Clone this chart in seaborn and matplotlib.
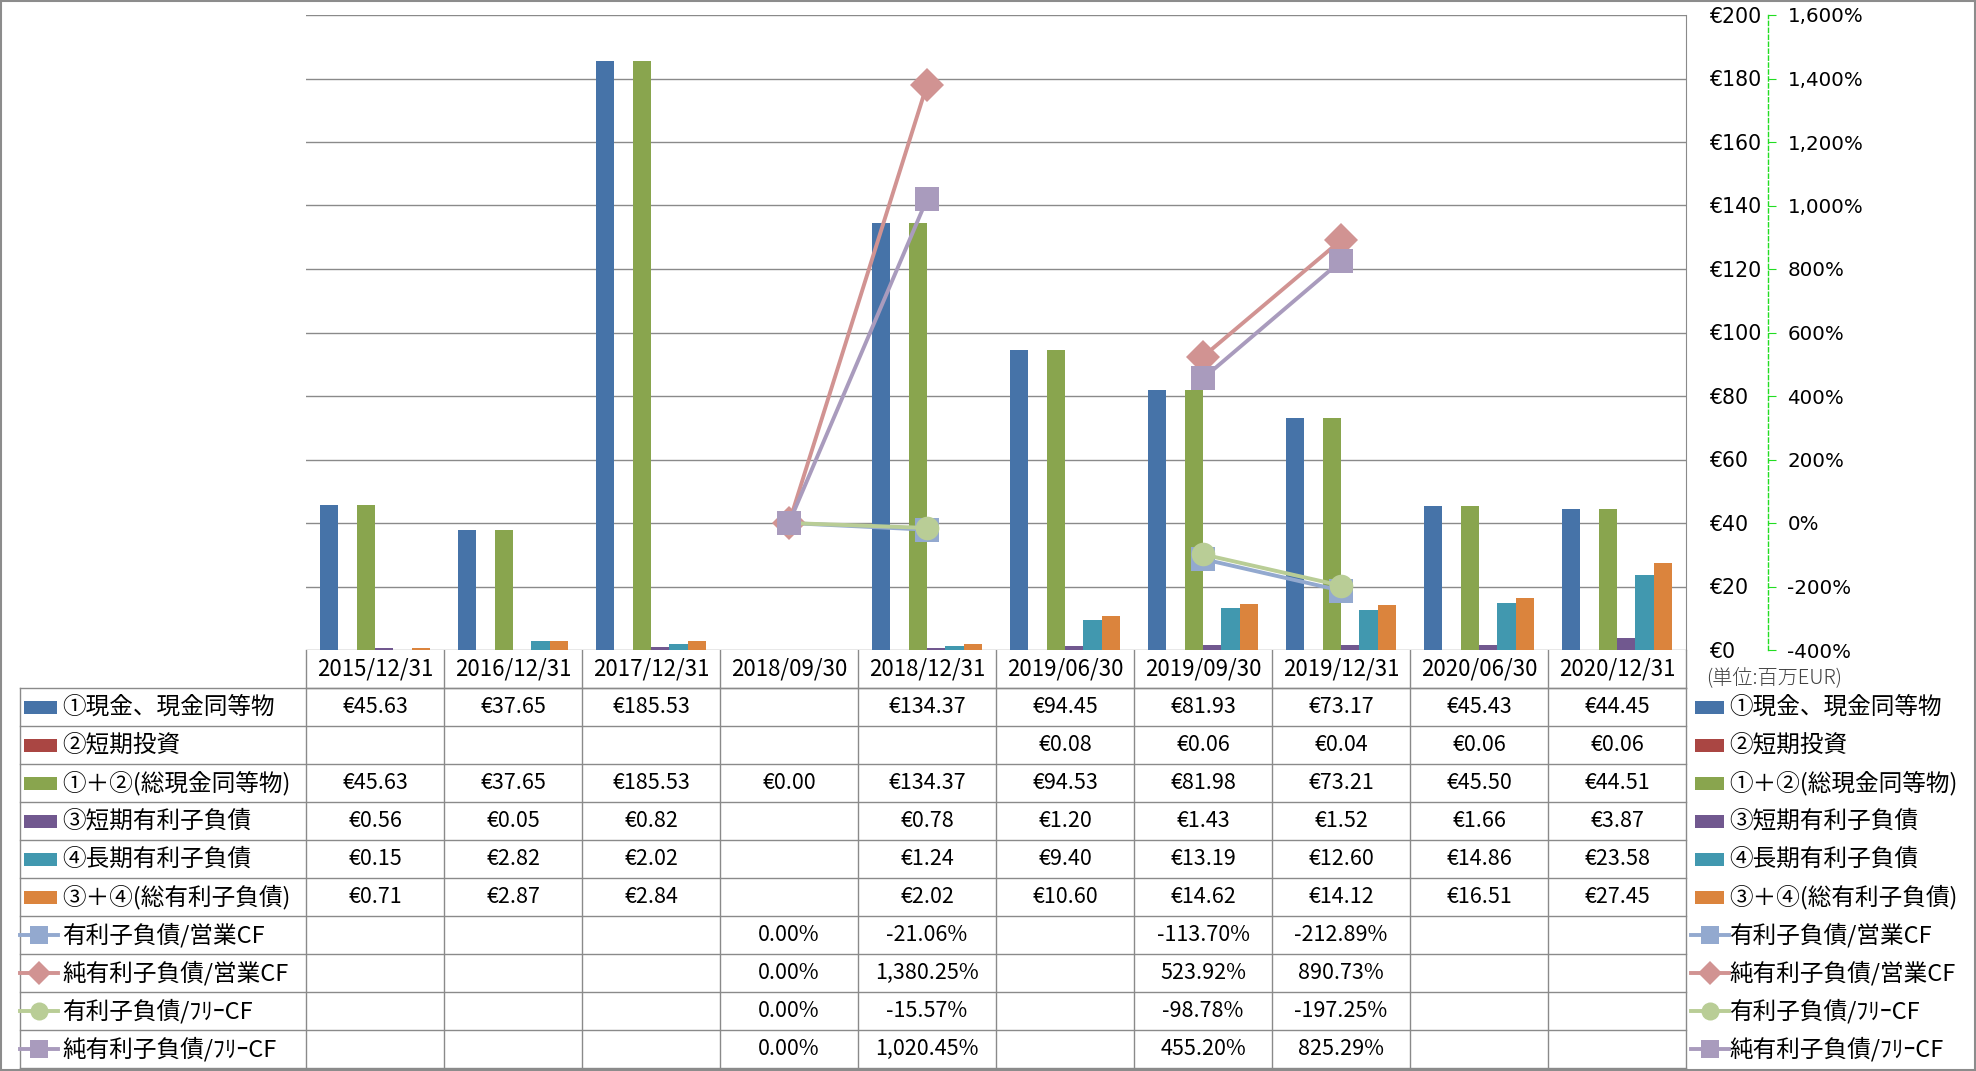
import numpy as np
import pandas as pd
import seaborn as sns
import matplotlib.pyplot as plt
from matplotlib.patches import Rectangle
from matplotlib.lines import Line2D

plt.rcParams['font.family'] = ['Noto Sans CJK JP', 'DejaVu Sans']

nan = np.nan
dates = ['2015/12/31', '2016/12/31', '2017/12/31', '2018/09/30', '2018/12/31',
         '2019/06/30', '2019/09/30', '2019/12/31', '2020/06/30', '2020/12/31']

# bar series (million EUR)
bar_names = ['①現金、現金同等物', '②短期投資', '①＋②(総現金同等物)',
             '③短期有利子負債', '④長期有利子負債', '③＋④(総有利子負債)']
cash = [45.63, 37.65, 185.53, nan, 134.37, 94.45, 81.93, 73.17, 45.43, 44.45]
st_invest = [nan, nan, nan, nan, nan, 0.08, 0.06, 0.04, 0.06, 0.06]
total_cash = [45.63, 37.65, 185.53, 0.00, 134.37, 94.53, 81.98, 73.21, 45.50, 44.51]
st_debt = [0.56, 0.05, 0.82, nan, 0.78, 1.20, 1.43, 1.52, 1.66, 3.87]
lt_debt = [0.15, 2.82, 2.02, nan, 1.24, 9.40, 13.19, 12.60, 14.86, 23.58]
total_debt = [0.71, 2.87, 2.84, nan, 2.02, 10.60, 14.62, 14.12, 16.51, 27.45]
bar_vals = [cash, st_invest, total_cash, st_debt, lt_debt, total_debt]
bar_colors = ['#4673A8', '#AA4643', '#89A54E', '#71588F', '#4198AF', '#DB843D']

# line series (%)
line_names = ['有利子負債/営業CF', '純有利子負債/営業CF', '有利子負債/ﾌﾘｰCF', '純有利子負債/ﾌﾘｰCF']
debt_ocf = [nan, nan, nan, 0.00, -21.06, nan, -113.70, -212.89, nan, nan]
net_debt_ocf = [nan, nan, nan, 0.00, 1380.25, nan, 523.92, 890.73, nan, nan]
debt_fcf = [nan, nan, nan, 0.00, -15.57, nan, -98.78, -197.25, nan, nan]
net_debt_fcf = [nan, nan, nan, 0.00, 1020.45, nan, 455.20, 825.29, nan, nan]
line_vals = [debt_ocf, net_debt_ocf, debt_fcf, net_debt_fcf]
line_colors = ['#93A9CF', '#D19392', '#B9CD96', '#A99BBD']
line_markers = ['s', 'D', 'o', 's']

bar_rows = []
for name, vals in zip(bar_names, bar_vals):
    for d, v in zip(dates, vals):
        if not np.isnan(v):
            bar_rows.append({'date': d, 'series': name, 'val': v})
bar_df = pd.DataFrame(bar_rows)

line_rows = []
for name, vals in zip(line_names, line_vals):
    seg = 0
    for i, v in enumerate(vals):
        if np.isnan(v):
            seg += 1
            continue
        line_rows.append({'pos': i, 'series': name, 'val': v, 'seg': seg})
line_df = pd.DataFrame(line_rows)

W, H = 1976, 1071
PL, PR, PT, PB = 306, 1686, 15, 650
ROW_H = 38
TAB_L = 20
GRID = '#8A8A8A'

fig = plt.figure(figsize=(W / 100, H / 100), dpi=100)

# layout layer in pixel coordinates (table, legend keys, border)
lay = fig.add_axes([0, 0, 1, 1])
lay.set_xlim(0, W)
lay.set_ylim(H, 0)
lay.axis('off')

ax = fig.add_axes([PL / W, 1 - PB / H, (PR - PL) / W, (PB - PT) / H])
sns.barplot(data=bar_df, x='date', y='val', hue='series', order=dates, hue_order=bar_names,
            palette=bar_colors, saturation=1, errorbar=None, legend=False, ax=ax)

ax2 = ax.twinx()
sns.lineplot(data=line_df, x='pos', y='val', hue='series', style='series', units='seg',
             estimator=None, hue_order=line_names, style_order=line_names,
             palette=line_colors, markers=line_markers, dashes=False, sort=True,
             lw=2.8, ms=17, mew=0, legend=False, ax=ax2)

# primary axis (EUR) on the right side of the plot
ax.set_ylim(0, 200)
eur_ticks = list(range(0, 201, 20))
ax.set_yticks(eur_ticks, labels=['€%d' % t for t in eur_ticks])
ax.yaxis.tick_right()
ax.tick_params(axis='y', length=0, pad=16.5, labelsize=14.8, labelfontfamily='DejaVu Sans')
ax.tick_params(axis='x', length=0, labelbottom=False)
ax.yaxis.grid(True, color=GRID, lw=1)
ax.set_axisbelow(True)
for s in ['top', 'left', 'bottom']:
    ax.spines[s].set_visible(False)
ax.spines['right'].set_color(GRID)
ax.set_xlabel('')
ax.set_ylabel('')

# secondary axis (%) offset to the right, dashed green
ax2.set_ylim(-400, 1600)
pct_ticks = list(range(-400, 1601, 200))
ax2.set_yticks(pct_ticks, labels=['{:,}%'.format(t) for t in pct_ticks])
ax2.tick_params(axis='y', direction='out', length=6, color='#22DD22', pad=8,
                labelsize=14.3, labelfontfamily='DejaVu Sans')
for lbl, t in zip(ax2.get_yticklabels(), pct_ticks):
    if t < 0:
        lbl.set_color('#FF0000')
for s in ['top', 'left', 'bottom']:
    ax2.spines[s].set_visible(False)
ax2.spines['right'].set_position(('outward', 59))
ax2.spines['right'].set_color('#22DD22')
ax2.spines['right'].set_linestyle((0, (3, 2)))
ax2.spines['right'].set_linewidth(1)
ax2.set_xlabel('')
ax2.set_ylabel('')
ax.set_xlim(-0.5, len(dates) - 0.5)

# data table under the plot
col_w = (PR - PL) / len(dates)
n_rows = len(bar_names) + len(line_names)
tab_top = PB + ROW_H
tab_bot = tab_top + ROW_H * n_rows
lay.plot([PL, PR], [tab_top, tab_top], color=GRID, lw=1)
for k in range(len(dates) + 1):
    x = PL + k * col_w
    lay.plot([x, x], [PB, tab_bot], color=GRID, lw=1)
lay.plot([TAB_L, TAB_L], [tab_top, tab_bot], color=GRID, lw=1)
for r in range(n_rows + 1):
    y = tab_top + r * ROW_H
    lay.plot([TAB_L, PR], [y, y], color=GRID, lw=1)

for j, d in enumerate(dates):
    lay.text(PL + (j + 0.5) * col_w, PB + ROW_H / 2, d, ha='center', va='center', fontsize=16)

row_names = bar_names + line_names
row_vals = bar_vals + line_vals
for r, (name, vals) in enumerate(zip(row_names, row_vals)):
    yc = tab_top + (r + 0.5) * ROW_H
    is_bar = r < len(bar_names)
    for j, v in enumerate(vals):
        if np.isnan(v):
            continue
        s = '€{:.2f}'.format(v) if is_bar else '{:,.2f}%'.format(v)
        lay.text(PL + (j + 0.5) * col_w, yc, s, ha='center', va='center', fontsize=15.5)
    # keys: left (table) and right (legend)
    for kx, tx in [(24, 62), (1695, 1729)]:
        if is_bar:
            lay.add_patch(Rectangle((kx, yc - 6.5), 33 if kx < 100 else 29, 13,
                                    color=bar_colors[r], lw=0))
        else:
            li = r - len(bar_names)
            lay.add_line(Line2D([kx - 4, kx + 34], [yc, yc], color=line_colors[li], lw=2.8))
            lay.add_line(Line2D([kx + 15], [yc], color=line_colors[li],
                                marker=line_markers[li], ms=13 if line_markers[li] != 'D' else 12,
                                mew=0))
        lay.text(tx, yc, name, ha='left', va='center', fontsize=17)

lay.text(1706, PB + ROW_H / 2 + 9, '(単位:百万EUR)', ha='left', va='center',
         fontsize=14.5, color='#404040', fontweight='light')

lay.add_patch(Rectangle((1, 1), W - 2, H - 2, fill=False, ec='#8C8C8C', lw=1.5))

fig.savefig('out.png', dpi=100)
